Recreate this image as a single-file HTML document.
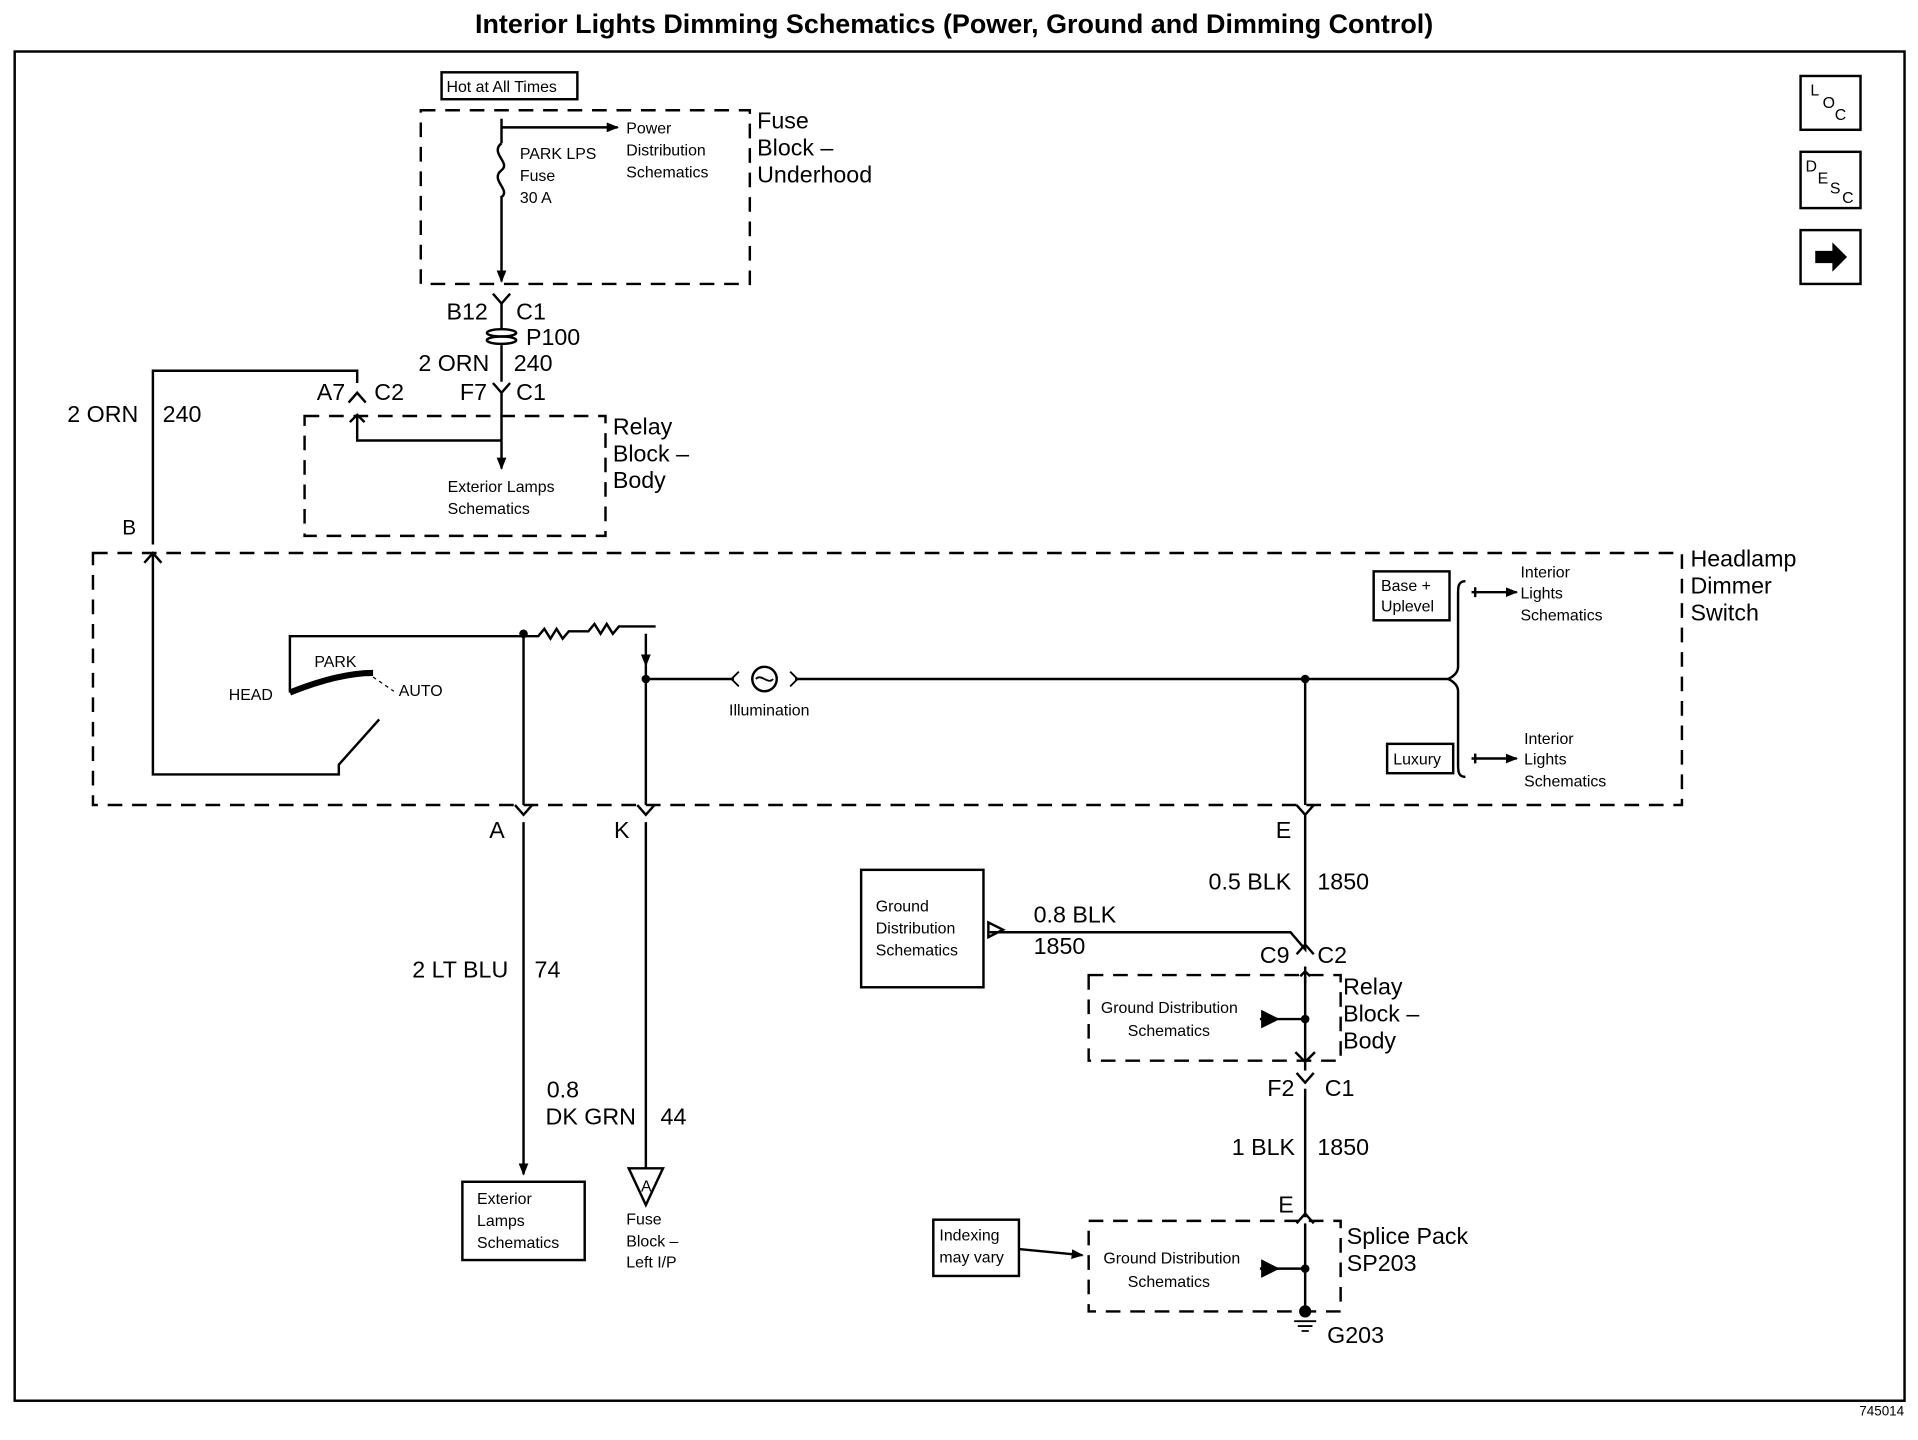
<!DOCTYPE html>
<html><head><meta charset="utf-8"><style>
html,body{margin:0;padding:0;background:#fff}
svg{display:block}
text{font-family:"Liberation Sans",Arial,sans-serif;fill:#000}
.s{font-size:13px}
.m{font-size:19px}
</style></head><body>
<svg width="1918" height="1440" viewBox="0 0 1568 1177" xmlns="http://www.w3.org/2000/svg">
<defs><marker id="a" markerWidth="10" markerHeight="8" refX="9" refY="4" orient="auto" markerUnits="userSpaceOnUse"><path d="M0,0L10,4L0,8z" fill="#000"/></marker></defs>
<g stroke="#000" fill="none" stroke-width="2">
<text x="780" y="27" text-anchor="middle" style="font-size:22px;font-weight:bold" stroke="none">Interior Lights Dimming Schematics (Power, Ground and Dimming Control)</text>
<rect x="12" y="42" width="1545" height="1103"/>
<rect x="1472" y="62" width="49" height="44"/><rect x="1472" y="124" width="49" height="46"/><rect x="1472" y="188" width="49" height="44"/>
<path d="M1484,205h14v-7l12,12l-12,12v-7h-14z" fill="#000" stroke="none"/>
<rect x="361" y="59" width="111" height="22"/>
<g stroke-dasharray="12,8">
<rect x="344" y="90" width="269" height="142"/>
<rect x="249" y="340" width="246" height="98"/>
<rect x="76" y="452" width="1299" height="206"/>
<rect x="890" y="797" width="206" height="70"/>
<rect x="890" y="998" width="206" height="74"/>
</g>
<path d="M410,97v20M410,160v70" marker-end="url(#a)"/>
<path d="M410,117c-10,8 8,16 0,22c-10,8 8,16 0,22"/>
<path d="M410,104h95" marker-end="url(#a)"/>
<path d="M403,240l7,8l7,-8M410,248v20M410,282v30M403,313l7,8l7,-8M410,321v62" marker-end="url(#a)"/>
<ellipse cx="410" cy="272" rx="12" ry="3"/><ellipse cx="410" cy="278" rx="12" ry="3"/>
<path d="M285,329l7,-8l7,8M292,313v-10h-167v142"/>
<path d="M118,460l7,-8l7,8M286,345l6,-6l6,6M292,340v20h118"/>
<path d="M125,452v181h152v-8l33,-37"/>
<path d="M237,566c20,-8 45,-16 68,-16" stroke-width="5"/>
<path d="M300,550l22,15" stroke-dasharray="3,3" stroke-width="1"/>
<path d="M237,566v-46h191h12l5,-6l5,8l5,-8l5,8l5,-6h16l5,-6l5,8l5,-8l5,8l5,-6h30"/>
<path d="M428,518v140M428,672v288" marker-end="url(#a)"/>
<path d="M528,518v26" marker-end="url(#a)"/>
<path d="M421,658l7,8l7,-8M528,544v114M528,672v283M521,658l7,8l7,-8M1060,658l7,8l7,-8"/>
<path d="M528,555h72M650,555h535M1067,555v103"/>
<circle cx="625" cy="555" r="10"/><path d="M604,549l-6,6l6,6M646,549l6,6l-6,6M618,555c4,-5 10,5 14,0" stroke-width="1.5"/>
<path d="M1067,666v110l-12,-14h-246" /><path d="M1060,780l7,-8l7,8M1067,790v85M1060,877l7,8l7,-8M1067,890v105M1060,1000l7,-8l7,8M1067,1000v72"/>
<path d="M1071,798l-4,-4l-4,4M1067,798v6"/>
<path d="M1030,833h37M1030,1037h37"/>
<path d="M1032,827l12,6l-12,6z" fill="#000"/><path d="M1032,1031l12,6l-12,6z" fill="#000"/>
<path d="M1059,860l8,8l8,-8M808,754l12,6l-12,6z"/>
<path d="M833,1021l52,5" marker-end="url(#a)"/>
<circle cx="1067" cy="1072" r="4" fill="#000"/><path d="M1058,1080h18M1061,1084h12M1064,1088h6" stroke-width="1.5"/>
<rect x="378" y="966" width="100" height="64"/>
<path d="M514,955h28l-14,30z"/>
<rect x="704" y="711" width="100" height="96"/>
<rect x="763" y="997" width="70" height="46"/>
<rect x="1123" y="467" width="62" height="40"/><rect x="1134" y="608" width="54" height="24"/>
<path d="M1198,475c-6,0 -6,5 -6,10v60c0,5 -4,8 -8,10c4,2 8,5 8,10v60c0,5 0,10 6,10"/>
<path d="M1203,484h37" marker-end="url(#a)"/><path d="M1203,620h37" marker-end="url(#a)"/>
<path d="M1206,480v8M1206,616v8"/>
<circle cx="428" cy="518" r="2.5" fill="#000"/><circle cx="528" cy="555" r="2.5" fill="#000"/><circle cx="1067" cy="555" r="2.5" fill="#000"/><circle cx="1067" cy="833" r="2.5" fill="#000"/><circle cx="1067" cy="1037" r="2.5" fill="#000"/>
</g>
<g stroke="none">
<text x="365" y="75" class="s">Hot at All Times</text>
<text x="1480" y="78" class="s">L</text><text x="1490" y="88" class="s">O</text><text x="1500" y="98" class="s">C</text>
<text x="1476" y="140" class="s">D</text><text x="1486" y="150" class="s">E</text><text x="1496" y="158" class="s">S</text><text x="1506" y="166" class="s">C</text>
<text x="425" y="130" class="s">PARK LPS</text><text x="425" y="148" class="s">Fuse</text><text x="425" y="166" class="s">30 A</text>
<text x="512" y="109" class="s">Power</text><text x="512" y="127" class="s">Distribution</text><text x="512" y="145" class="s">Schematics</text>
<text x="619" y="105" class="m">Fuse</text><text x="619" y="127" class="m">Block –</text><text x="619" y="149" class="m">Underhood</text>
<text x="365" y="261" class="m">B12</text><text x="422" y="261" class="m">C1</text><text x="430" y="282" class="m">P100</text>
<text x="342" y="303" class="m">2 ORN</text><text x="420" y="303" class="m">240</text>
<text x="259" y="327" class="m">A7</text><text x="306" y="327" class="m">C2</text><text x="376" y="327" class="m">F7</text><text x="422" y="327" class="m">C1</text>
<text x="55" y="345" class="m">2 ORN</text><text x="133" y="345" class="m">240</text><text x="100" y="437" class="s" style="font-size:17px">B</text>
<text x="366" y="402" class="s">Exterior Lamps</text><text x="366" y="420" class="s">Schematics</text>
<text x="501" y="355" class="m">Relay</text><text x="501" y="377" class="m">Block –</text><text x="501" y="399" class="m">Body</text>
<text x="1382" y="463" class="m">Headlamp</text><text x="1382" y="485" class="m">Dimmer</text><text x="1382" y="507" class="m">Switch</text>
<text x="257" y="545" class="s">PARK</text><text x="187" y="572" class="s">HEAD</text><text x="326" y="569" class="s">AUTO</text>
<text x="596" y="585" class="s">Illumination</text>
<text x="1129" y="483" class="s">Base +</text><text x="1129" y="500" class="s">Uplevel</text><text x="1139" y="625" class="s">Luxury</text>
<text x="1243" y="472" class="s">Interior</text><text x="1243" y="489" class="s">Lights</text><text x="1243" y="507" class="s">Schematics</text>
<text x="1246" y="608" class="s">Interior</text><text x="1246" y="625" class="s">Lights</text><text x="1246" y="643" class="s">Schematics</text>
<text x="400" y="685" class="m">A</text><text x="502" y="685" class="m">K</text><text x="1043" y="685" class="m">E</text>
<text x="337" y="799" class="m">2 LT BLU</text><text x="437" y="799" class="m">74</text>
<text x="447" y="897" class="m">0.8</text><text x="446" y="919" class="m">DK GRN</text><text x="540" y="919" class="m">44</text>
<text x="390" y="984" class="s">Exterior</text><text x="390" y="1002" class="s">Lamps</text><text x="390" y="1020" class="s">Schematics</text>
<text x="524" y="974" class="s">A</text>
<text x="512" y="1001" class="s">Fuse</text><text x="512" y="1019" class="s">Block –</text><text x="512" y="1036" class="s">Left I/P</text>
<text x="988" y="727" class="m">0.5 BLK</text><text x="1077" y="727" class="m">1850</text>
<text x="716" y="745" class="s">Ground</text><text x="716" y="763" class="s">Distribution</text><text x="716" y="781" class="s">Schematics</text>
<text x="845" y="754" class="m">0.8 BLK</text><text x="845" y="780" class="m">1850</text>
<text x="1030" y="787" class="m">C9</text><text x="1077" y="787" class="m">C2</text>
<text x="900" y="828" class="s">Ground Distribution</text><text x="922" y="847" class="s">Schematics</text>
<text x="1098" y="813" class="m">Relay</text><text x="1098" y="835" class="m">Block –</text><text x="1098" y="857" class="m">Body</text>
<text x="1036" y="896" class="m">F2</text><text x="1083" y="896" class="m">C1</text>
<text x="1007" y="944" class="m">1 BLK</text><text x="1077" y="944" class="m">1850</text>
<text x="1045" y="991" class="m">E</text>
<text x="1101" y="1017" class="m">Splice Pack</text><text x="1101" y="1039" class="m">SP203</text>
<text x="768" y="1014" class="s">Indexing</text><text x="768" y="1032" class="s">may vary</text>
<text x="902" y="1033" class="s">Ground Distribution</text><text x="922" y="1052" class="s">Schematics</text>
<text x="1085" y="1098" class="m">G203</text>
<text x="1520" y="1157" class="s" style="font-size:11px">745014</text>
</g>
</svg>
</body></html>
